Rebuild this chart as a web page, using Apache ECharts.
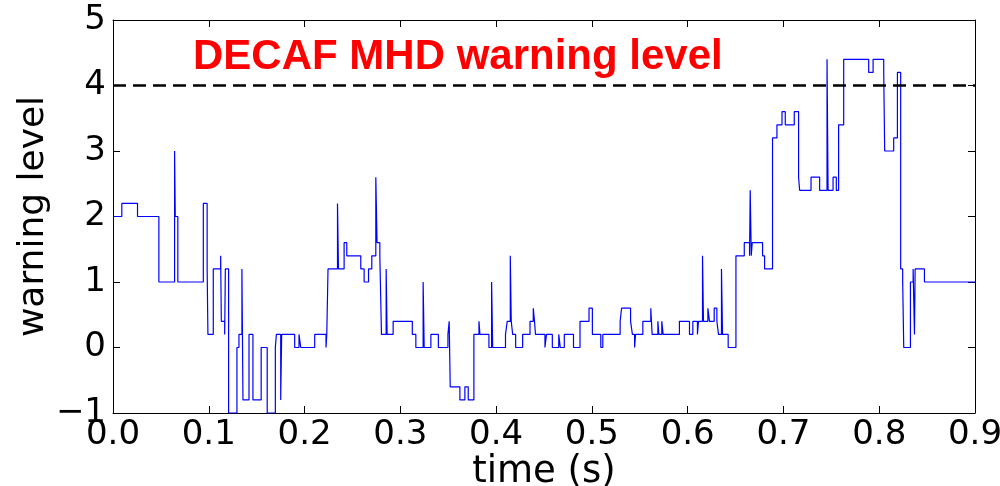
<!DOCTYPE html>
<html>
<head>
<meta charset="utf-8">
<script src="https://cdn.jsdelivr.net/npm/echarts@6/dist/echarts.min.js"></script>
<style>
html,body{margin:0;padding:0;background:#fff;}
#chart{width:1000px;height:486px;}
</style>
</head>
<body>
<div id="chart"></div>
<script>
// Step data: each level holds from its time until the next time
const times = [0, 0.0092, 0.0256, 0.0479, 0.0643, 0.0650, 0.0677, 0.0943, 0.0983, 0.0991,
  0.1047, 0.1124, 0.1131, 0.1166, 0.1173, 0.1207, 0.1294, 0.1315, 0.1346, 0.1357,
  0.1420, 0.1461, 0.1547, 0.1610, 0.1695, 0.1706, 0.1751, 0.1761, 0.1897, 0.1942,
  0.1960, 0.2106, 0.2224, 0.2232, 0.2245, 0.2344, 0.2354, 0.2413, 0.2441, 0.2587,
  0.2622, 0.2668, 0.2702, 0.2744, 0.2757, 0.2786, 0.2803, 0.2852, 0.2862, 0.2925,
  0.3125, 0.3162, 0.3238, 0.3249, 0.3319, 0.3397, 0.3497, 0.3510, 0.3521, 0.3622,
  0.3674, 0.3709, 0.3768, 0.3821, 0.3831, 0.3925, 0.3953, 0.3964, 0.4098, 0.4116,
  0.4148, 0.4158, 0.4173, 0.4204, 0.4277, 0.4354, 0.4388, 0.4401, 0.4411, 0.4510,
  0.4526, 0.4587, 0.4654, 0.4670, 0.4712, 0.4808, 0.4876, 0.4970, 0.5005, 0.5093,
  0.5114, 0.5295, 0.5310, 0.5404, 0.5423, 0.5446, 0.5456, 0.5532, 0.5615, 0.5629,
  0.5689, 0.5699, 0.5730, 0.5744, 0.5914, 0.6019, 0.6054, 0.6102, 0.6113, 0.6155,
  0.6165, 0.6211, 0.6228, 0.6277, 0.6305, 0.6322, 0.6353, 0.6364, 0.6423, 0.6504,
  0.6591, 0.6646, 0.6653, 0.6664, 0.6674, 0.6782, 0.6803, 0.6886, 0.6932, 0.6985,
  0.7019, 0.7113, 0.7158, 0.7169, 0.7288, 0.7378, 0.7455, 0.7466, 0.7518, 0.7552,
  0.7576, 0.7629, 0.7890, 0.7936, 0.8047, 0.8057, 0.8151, 0.8190, 0.8224, 0.8245,
  0.8256, 0.8326, 0.8354, 0.8368, 0.8375, 0.8472, 0.9];
const levels = [2.0, 2.2, 2.0, 1.0, 3.0, 2.0, 1.0, 2.2, 1.2, 0.2,
  1.2, 1.4, 0.4, 0.2, 1.2, -1.0, 0.0, 0.2, 1.2, -0.8,
  0.2, -0.8, 0.0, -1.0, 0.0, 0.2, -0.8, 0.2, 0.0, 0.2,
  0.0, 0.2, 0.0, 0.2, 1.2, 2.2, 1.2, 1.6, 1.4, 1.2,
  1.0, 1.2, 1.4, 2.6, 1.6, 1.4, 0.2, 1.2, 0.2, 0.4,
  0.2, 0.0, 1.0, 0.0, 0.2, 0.0, 0.2, 0.4, -0.6, -0.8,
  -0.6, -0.8, 0.2, 0.4, 0.2, 0.0, 1.0, 0.0, 0.2, 0.4,
  1.4, 0.4, 0.2, 0.0, 0.2, 0.4, 0.6, 0.4, 0.2, 0.0,
  0.2, 0.0, 0.2, 0.0, 0.2, 0.0, 0.4, 0.6, 0.2, 0.0,
  0.2, 0.4, 0.6, 0.4, 0.2, 0.0, 0.2, 0.4, 0.6, 0.2,
  0.4, 0.2, 0.4, 0.2, 0.4, 0.2, 0.4, 0.2, 0.4, 1.4,
  0.4, 0.6, 0.4, 0.6, 0.4, 0.2, 1.2, 0.2, 0.0, 1.4,
  1.6, 1.4, 2.4, 1.4, 1.6, 1.4, 1.2, 3.2, 3.4, 3.6,
  3.4, 3.6, 2.6, 2.4, 2.6, 2.4, 4.4, 2.4, 2.6, 2.4,
  3.4, 4.4, 4.2, 4.4, 4.2, 3.0, 3.2, 4.2, 1.2, 1.0,
  0.0, 1.0, 1.2, 0.2, 1.2, 1.0, 1.0];
const threshold = 4;
const titleText = 'DECAF MHD warning level';
const xName = 'time (s)';
const yName = 'warning level';
const xMin = 0, xMax = 0.9, xStep = 0.1;
const yMin = -1, yMax = 5, yStep = 1;

const seriesData = times.map((t, i) => [t, levels[i]]);

const chart = echarts.init(document.getElementById('chart'), null, {renderer: 'canvas'});
const font = 'DejaVu Sans';
const fmtY = v => (v < 0 ? '\u2212' + Math.abs(v) : String(v));
const fmtX = v => Number(v).toFixed(1);
const axisLine = {show: true, onZero: false, lineStyle: {color: '#000', width: 1}};
const tick = {show: true, inside: true, length: 7, lineStyle: {color: '#000', width: 1}};

chart.setOption({
  animation: false,
  backgroundColor: '#fff',
  title: {
    text: titleText,
    left: 193, top: 36, padding: 0,
    textStyle: {color: '#ff0000', fontFamily: 'Liberation Sans', fontWeight: 'bold', fontSize: 42}
  },
  grid: {left: 113, right: 25, top: 20, bottom: 73, containLabel: false, outerBoundsMode: 'none'},
  xAxis: [{
    type: 'value', min: xMin, max: xMax, interval: xStep, position: 'bottom',
    name: xName, nameLocation: 'middle', nameGap: 41, nameMoveOverlap: false,
    nameTextStyle: {fontFamily: font, fontSize: 37, color: '#000'},
    axisLine: axisLine, axisTick: tick, splitLine: {show: false},
    axisLabel: {formatter: fmtX, fontFamily: font, fontSize: 34, color: '#000', margin: 5}
  }, {
    type: 'value', min: xMin, max: xMax, interval: xStep, position: 'top',
    axisLine: axisLine, axisTick: tick, splitLine: {show: false}, axisLabel: {show: false}
  }],
  yAxis: [{
    type: 'value', min: yMin, max: yMax, interval: yStep, position: 'left',
    name: yName, nameLocation: 'middle', nameGap: 61, nameRotate: 90, nameMoveOverlap: false,
    nameTextStyle: {fontFamily: font, fontSize: 36, color: '#000'},
    axisLine: axisLine, axisTick: tick, splitLine: {show: false},
    axisLabel: {formatter: fmtY, fontFamily: font, fontSize: 34, color: '#000', margin: 7}
  }, {
    type: 'value', min: yMin, max: yMax, interval: yStep, position: 'right',
    axisLine: axisLine, axisTick: tick, splitLine: {show: false}, axisLabel: {show: false}
  }],
  series: [{
    type: 'line',
    step: 'end',
    data: seriesData,
    showSymbol: false,
    clip: true,
    lineStyle: {color: '#0000ff', width: 1.2},
    markLine: {
      silent: true,
      symbol: ['none', 'none'],
      label: {show: false},
      lineStyle: {color: '#000', width: 2.5, type: [13, 7]},
      data: [{yAxis: threshold}]
    }
  }]
});
</script>
</body>
</html>
